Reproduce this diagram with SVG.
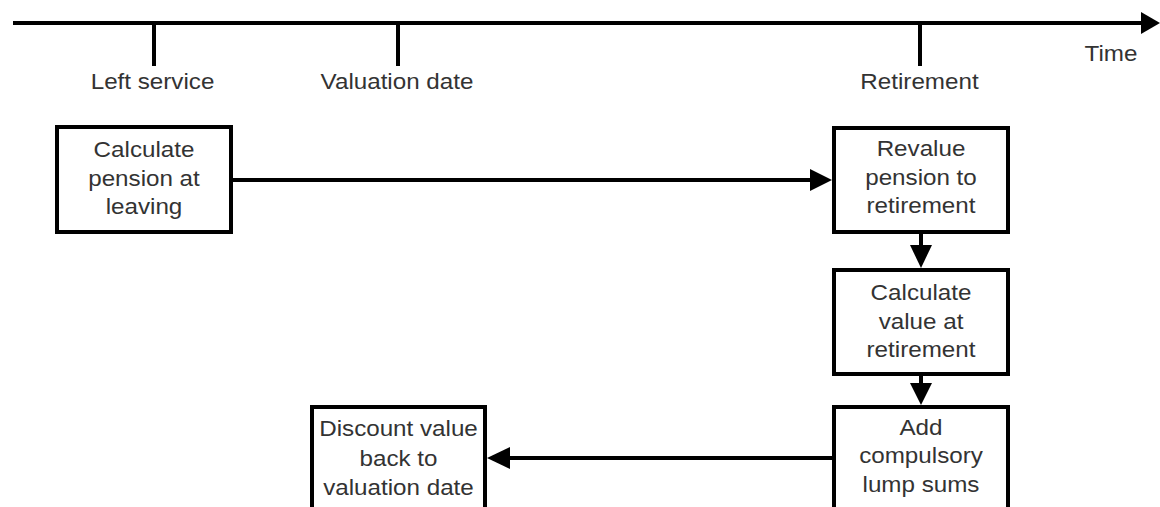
<svg xmlns="http://www.w3.org/2000/svg" width="1160" height="507" viewBox="0 0 1160 507">
<style>
  .box { fill: #ffffff; stroke: #000000; stroke-width: 4; }
  .ln { stroke: #000000; stroke-width: 4; fill: none; }
  .ah { fill: #000000; stroke: none; }
  text { font-family: "Liberation Sans", Arial, sans-serif; font-size: 22px; fill: #333333; text-anchor: middle; }
</style>
<rect width="1160" height="507" fill="#ffffff"/>
<g id="timeline">
  <line class="ln" x1="13" y1="23" x2="1142" y2="23"/>
  <polygon class="ah" points="1141,12 1160,23 1141,34"/>
  <line class="ln" x1="154" y1="23" x2="154" y2="66"/>
  <line class="ln" x1="398" y1="23" x2="398" y2="66"/>
  <line class="ln" x1="920" y1="23" x2="920" y2="66"/>
  <text transform="translate(152.5 0) scale(1.1 1)" x="0" y="89">Left service</text>
  <text transform="translate(397 0) scale(1.1 1)" x="0" y="89">Valuation date</text>
  <text transform="translate(919.5 0) scale(1.1 1)" x="0" y="89">Retirement</text>
  <text transform="translate(1111 0) scale(1.1 1)" x="0" y="61">Time</text>
</g>
<g id="connectors">
  <line class="ln" x1="233" y1="180" x2="812" y2="180"/>
  <polygon class="ah" points="810,169 832,180 810,191"/>
  <line class="ln" x1="921" y1="234" x2="921" y2="247"/>
  <polygon class="ah" points="910,245 932,245 921,268"/>
  <line class="ln" x1="921" y1="376" x2="921" y2="385"/>
  <polygon class="ah" points="910,383 932,383 921,405"/>
  <line class="ln" x1="832" y1="458" x2="508" y2="458"/>
  <polygon class="ah" points="510,447 487,458 510,469"/>
</g>
<g id="n1">
  <rect class="box" x="57" y="127" width="174" height="105"/>
  <text transform="translate(144 0) scale(1.1 1)"><tspan x="0" y="157">Calculate</tspan><tspan x="0" y="186">pension at</tspan><tspan x="0" y="214">leaving</tspan></text>
</g>
<g id="n2">
  <rect class="box" x="834" y="128" width="174" height="104"/>
  <text transform="translate(921 0) scale(1.1 1)"><tspan x="0" y="156">Revalue</tspan><tspan x="0" y="185">pension to</tspan><tspan x="0" y="213">retirement</tspan></text>
</g>
<g id="n3">
  <rect class="box" x="834" y="270" width="174" height="104"/>
  <text transform="translate(921 0) scale(1.1 1)"><tspan x="0" y="300">Calculate</tspan><tspan x="0" y="329">value at</tspan><tspan x="0" y="357">retirement</tspan></text>
</g>
<g id="n4">
  <rect class="box" x="834" y="407" width="174" height="120"/>
  <text transform="translate(921 0) scale(1.1 1)"><tspan x="0" y="435">Add</tspan><tspan x="0" y="463">compulsory</tspan><tspan x="0" y="492">lump sums</tspan></text>
</g>
<g id="n5">
  <rect class="box" x="312" y="407" width="173" height="120"/>
  <text transform="translate(398.5 0) scale(1.1 1)"><tspan x="0" y="436">Discount value</tspan><tspan x="0" y="466">back to</tspan><tspan x="0" y="495">valuation date</tspan></text>
</g>
</svg>
